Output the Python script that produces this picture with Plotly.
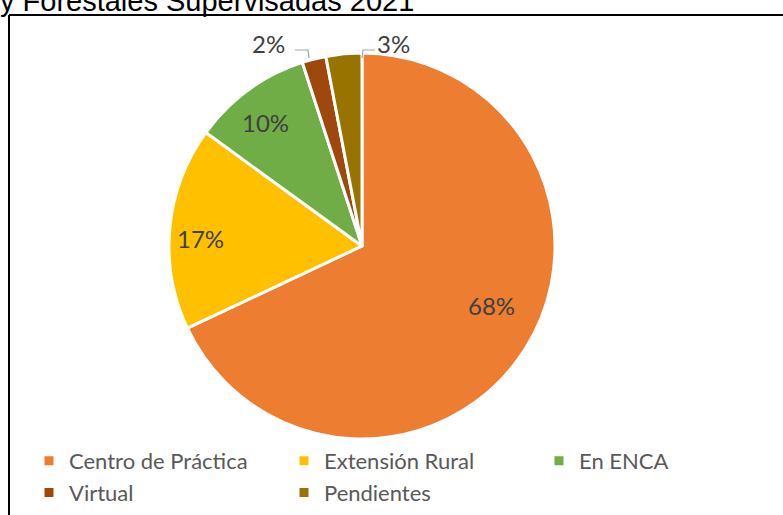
import plotly.graph_objects as go

categories = ["Centro de Práctica", "Extensión Rural", "En ENCA", "Virtual", "Pendientes"]
values = [68, 17, 10, 2, 3]
colors = ["#ED7D31", "#FFC000", "#70AD47", "#9E480E", "#997300"]
title_text = "y Forestales Supervisadas 2021"

W, H = 783, 515
CX, CY, R = 362, 246, 193
FONT = "Lato, Carlito, Calibri, Noto Sans"

def px(x):
    return x / W

def py(y):
    return 1 - y / H

fig = go.Figure()
fig.add_trace(go.Pie(
    labels=categories, values=values, sort=False, direction="clockwise", rotation=0,
    marker=dict(colors=colors, line=dict(color="white", width=3)),
    textinfo="none", hoverinfo="label+percent",
    domain=dict(x=[px(CX - R), px(CX + R)], y=[py(CY + R), py(CY - R)]),
))

total = sum(values)
annotations = []
shapes = []
# label placement (pixel centres, style only)
label_pos = [(491, 305), (200, 238), (265, 123), (268, 44), (394, 44)]
for v, (lx, ly) in zip(values, label_pos):
    label = f"{round(v / total * 100)}%"
    annotations.append(dict(x=px(lx), y=py(ly), xref="paper", yref="paper", text=label,
                            xanchor="center", yanchor="middle",
                            showarrow=False, font=dict(family=FONT, size=24, color="#404040")))

# leader lines (elbow)
leader_paths = [[(295, 50), (308, 50), (309, 58)], [(375, 50), (363, 50), (362, 58)]]
for pts in leader_paths:
    d = "M " + " L ".join(f"{px(x)},{py(y)}" for x, y in pts)
    shapes.append(dict(type="path", path=d, xref="paper", yref="paper",
                       line=dict(color="#A6A6A6", width=1.2)))

# chart border (top and left visible)
shapes.append(dict(type="line", xref="paper", yref="paper", x0=px(9), x1=px(790), y0=py(15), y1=py(15),
                   line=dict(color="black", width=2)))
shapes.append(dict(type="line", xref="paper", yref="paper", x0=px(9), x1=px(9), y0=py(15), y1=py(530),
                   line=dict(color="black", width=2)))

annotations.append(dict(x=px(-2), y=py(0.5), xref="paper", yref="paper", xanchor="left", yanchor="middle",
                        text=title_text, showarrow=False,
                        font=dict(family="Liberation Sans, Arial", size=29, color="black")))

fig.update_layout(
    width=W, height=H, margin=dict(l=0, r=0, t=0, b=0, autoexpand=False),
    paper_bgcolor="white", plot_bgcolor="white",
    annotations=annotations, shapes=shapes,
    showlegend=True,
    legend=dict(orientation="h", x=px(29), y=py(440), xanchor="left", yanchor="top",
                entrywidth=210, entrywidthmode="pixels", bgcolor="rgba(0,0,0,0)",
                font=dict(family=FONT, size=22, color="#595959"),
                itemwidth=30, tracegroupgap=0),
)
fig.write_html("out.html", config={"displayModeBar": False},
               post_script="document.body.style.margin='0';")
